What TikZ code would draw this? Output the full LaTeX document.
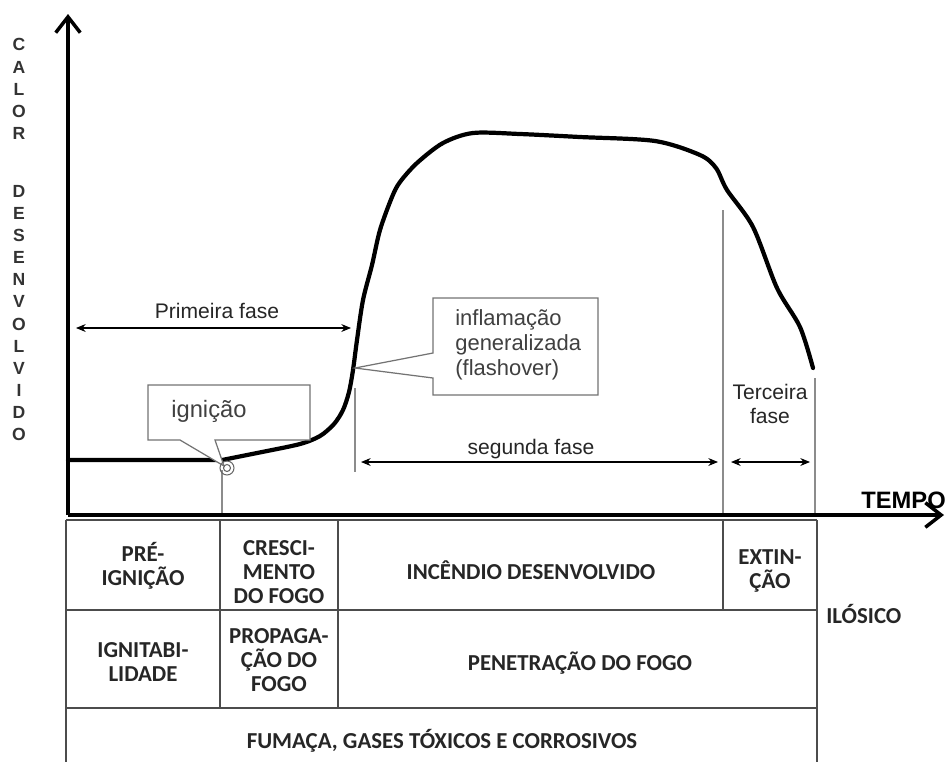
\documentclass[tikz,border=0pt]{standalone}
\usepackage{fontspec}
\setmainfont{Liberation Sans}
\newfontfamily\tabfont{Carlito}
\usetikzlibrary{arrows.meta}

\tikzset{
	achse/.style={line width=2pt, -{Straight Barb[length=9pt,width=14pt,line width=2pt]}},
	kurve/.style={line width=2.4pt, line join=round, line cap=round},
	fase/.style={line width=0.6pt, {Stealth[length=5.5pt,width=4.5pt]}-{Stealth[length=5.5pt,width=4.5pt]}},
	grenze/.style={black!45, line width=0.6pt},
	gitter/.style={black!70, line width=0.8pt},
	sprechblase/.style={black!55, line width=0.7pt, fill=white, line join=miter},
	zelle/.style={font=\tabfont\bfseries\fontsize{13}{13.6}\selectfont, text=black!85, align=center, inner sep=0pt},
	fasetext/.style={font=\fontsize{12}{13.6}\selectfont, text=black!85, align=center, inner sep=0pt},
	buchstaben/.style={font=\bfseries\fontsize{10}{12.6}\selectfont, text=black!80, align=center, inner sep=0pt}
}

\begin{document}
\begin{tikzpicture}[x=0.02cm, y=-0.02cm]
	\useasboundingbox (0,0) rectangle (947,762);

	% Zeichnet die senkrechten Hilfslinien der Phasen
	\draw[grenze] (222,470) -- (222,515);
	\draw[grenze] (355,388) -- (355,472);
	\draw[grenze] (723,210) -- (723,515);
	\draw[grenze] (815,378) -- (815,515);

	% Zeichnet die Achsen
	\coordinate (ursprung) at (68,515);
	\coordinate (yspitze) at (68,14);
	\coordinate (xspitze) at (944,515);
	\draw[achse] (ursprung) -- (yspitze);
	\draw[achse] (ursprung) -- (xspitze);

	% Beschriftung der Achsen
	\node[buchstaben] (calor) at (19,89) {C\\A\\L\\O\\R};
	\node[buchstaben] (desenvolvido) at (19,313) {D\\E\\S\\E\\N\\V\\O\\L\\V\\I\\D\\O};
	\node[font=\bfseries\fontsize{13.5}{16}\selectfont, anchor=base west, inner sep=0pt] (tempo) at (861,508) {TEMPO};

	% Zeichnet die Kurve des Brandverlaufs
	\draw[kurve] (68,460) -- (222,460) -- plot[smooth, tension=0.5] coordinates {(222,460) (262,452) (300,444) (320,436) (334,424) (343,410) (349,392) (353,370) (357,340) (363,300) (372,265) (380,230) (392,197) (400,182) (417,163) (443,143) (473,133) (520,134) (580,137) (655,141) (700,155) (716,168) (727,190) (753,227) (777,288) (800,327) (813,368)};

	% Zeichnet die Sprechblase Zuendung
	\draw[sprechblase] (148,385) -- (310,385) -- (310,440) -- (215,440) -- (224,466) -- (180,440) -- (148,440) -- cycle;
	\node[font=\fontsize{13.5}{16}\selectfont, text=black!75, anchor=base west, inner sep=0pt] (ignicao) at (171,417) {ignição};
	\draw[black!60, line width=0.6pt] (227,468) circle [radius=7];
	\draw[black!60, line width=0.6pt] (227,468) circle [radius=3.5];

	% Zeichnet die Sprechblase Flashover
	\draw[sprechblase] (433,298) -- (598,298) -- (598,395) -- (433,395) -- (433,378) -- (355,368) -- (433,353) -- cycle;
	\node[font=\fontsize{12.5}{14.2}\selectfont, text=black!75, align=left, anchor=north west, inner sep=0pt] (flashover) at (455,309) {inflamação\\generalizada\\(flashover)};

	% Zeichnet die Pfeile der Phasen
	\coordinate (f1a) at (76,328);
	\coordinate (f1b) at (351,328);
	\draw[fase] (f1a) -- (f1b);
	\node[fasetext, anchor=base] (primeira) at (217,318) {Primeira fase};

	\coordinate (f2a) at (361,462);
	\coordinate (f2b) at (718,462);
	\draw[fase] (f2a) -- (f2b);
	\node[fasetext, anchor=base] (segunda) at (531,454) {segunda fase};

	\coordinate (f3a) at (731,462);
	\coordinate (f3b) at (810,462);
	\draw[fase] (f3a) -- (f3b);
	\node[fasetext, anchor=base] (terceira) at (770,423) {Terceira\\fase};

	% Zeichnet die Tabelle unter der Zeitachse
	\draw[gitter] (66,520) -- (817,520);
	\draw[gitter] (66,610) -- (817,610);
	\draw[gitter] (66,708) -- (817,708);
	\draw[gitter] (66,520) -- (66,762);
	\draw[gitter] (220,520) -- (220,708);
	\draw[gitter] (338,520) -- (338,708);
	\draw[gitter] (723,520) -- (723,610);
	\draw[gitter] (817,520) -- (817,762);

	% Texte der Tabelle
	\node[zelle] (preignicao) at (143,566) {PRÉ-\\IGNIÇÃO};
	\node[zelle] (crescimento) at (279,572) {CRESCI-\\MENTO\\DO FOGO};
	\node[zelle] (incendio) at (531,570) {INCÊNDIO DESENVOLVIDO};
	\node[zelle] (extincao) at (770,571) {EXTIN-\\ÇÃO};
	\node[zelle] (ignitabilidade) at (143,662) {IGNITABI-\\LIDADE};
	\node[zelle] (propagacao) at (279,660) {PROPAGA-\\ÇÃO DO\\FOGO};
	\node[zelle] (penetracao) at (580,663) {PENETRAÇÃO DO FOGO};
	\node[zelle] (fumaca) at (442,741) {FUMAÇA, GASES TÓXICOS E CORROSIVOS};
	\node[zelle, anchor=west] (ilosico) at (826,614) {ILÓSICO};
\end{tikzpicture}
\end{document}
